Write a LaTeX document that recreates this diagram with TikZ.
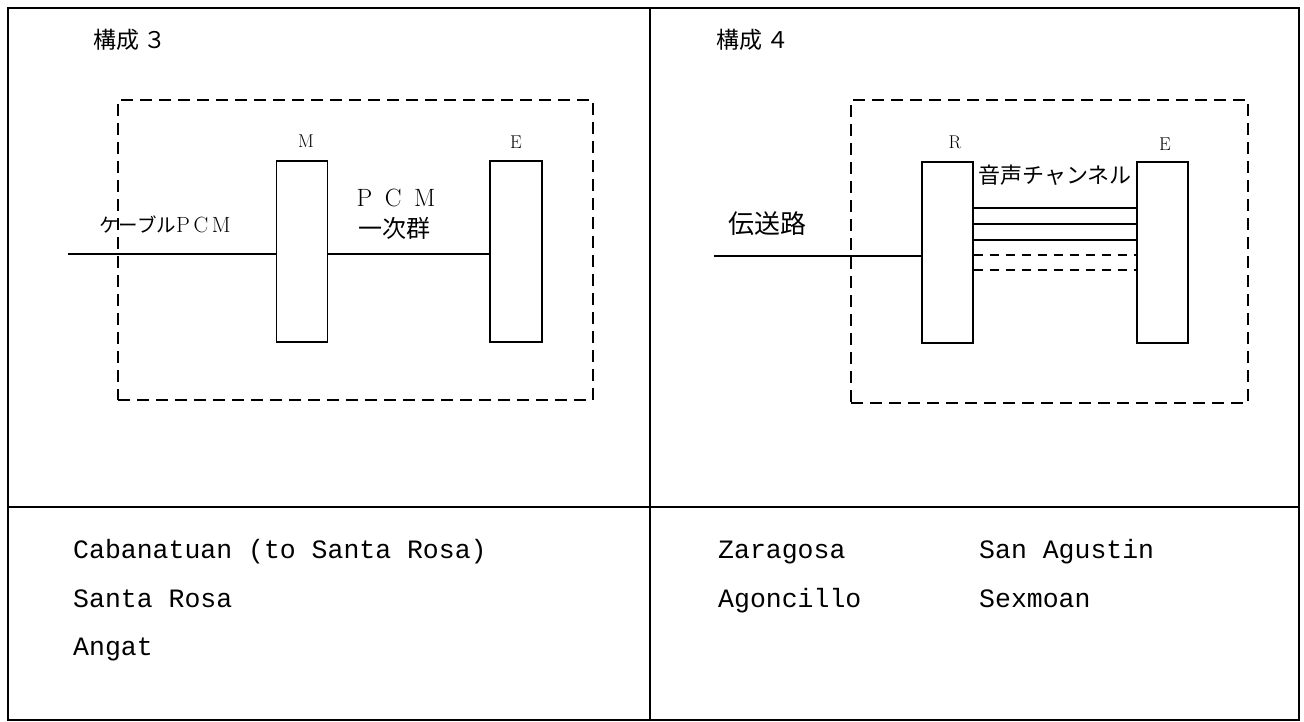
\documentclass[tikz,border=0pt]{standalone}
\usepackage{fontspec}
\newfontfamily\cjk{Noto Sans CJK JP}
\newfontfamily\mono{Liberation Mono}
\newcommand{\fsz}[1]{\fontsize{#1}{#1}\selectfont}
\begin{document}
\begin{tikzpicture}[x=1pt,y=-1pt,
  outerline/.style={line width=1.6pt},
  unitbox/.style={draw, line width=1.5pt, rectangle, inner sep=0pt, minimum width=51pt, minimum height=181pt},
  sectbox/.style={draw, line width=1.5pt, dash pattern=on 12pt off 7pt, rectangle, inner sep=0pt},
  wire/.style={line width=1.3pt},
  chdash/.style={line width=1.3pt, dash pattern=on 9pt off 7pt},
  unitlbl/.style={inner sep=0pt, font=\fsz{18.5}},
  jlbl/.style={inner sep=0pt, font=\cjk\fsz{#1}},
  site/.style={inner sep=0pt, anchor=base west, font=\mono\fsz{26.5}}
]
\useasboundingbox (0,0) rectangle (1304,722);
% outer table
\draw[outerline] (8,8) rectangle (1299,720);
\draw[outerline] (650,8) -- (650,720);
\draw[outerline] (8,507) -- (1299,507);

% titles
\node[jlbl=23] (t3) at (130,40) {構成\,３};
\node[jlbl=23] (t4) at (753,40) {構成\,４};

% ---- configuration 3 ----
\node[sectbox, minimum width=475pt, minimum height=300pt] (f3) at (355.5,250) {};
\node[unitbox] (M) at (302,251.5) {};
\node[unitbox, minimum width=52pt] (E3) at (516,251.5) {};
\node[unitlbl] (lM) at (306,141) {M};
\node[unitlbl] (lE3) at (516,142) {E};
\coordinate (in3) at (68,254);
\draw[wire] (in3) -- (in3 -| M.west);
\draw[wire] (in3 -| M.east) -- (in3 -| E3.west);
\node[jlbl=19.5] (cab) at (165,225) {ケーブル{\rmfamily\fsz{22}P\,C\,M}};
\node[inner sep=0pt, font=\fsz{25}] (pcm) at (396,198) {P\enspace C\enspace M};
\node[jlbl=24] (grp) at (394,228) {一次群};

% ---- configuration 4 ----
\node[sectbox, minimum width=397pt, minimum height=303pt] (f4) at (1049.5,251.5) {};
\node[unitbox] (R) at (947.5,252.5) {};
\node[unitbox] (E4) at (1162.5,252.5) {};
\node[unitlbl] (lR) at (955,142) {R};
\node[unitlbl] (lE4) at (1165,144) {E};
\coordinate (in4) at (714,256);
\draw[wire] (in4) -- (in4 -| R.west);
\node[jlbl=26] (den) at (767,224) {伝送路};
\node[jlbl=22] (ch) at (1055,175) {音声チャンネル};
\foreach \yy in {208,224,240}{
  \draw[wire] (R.east |- 0,\yy) -- (E4.west |- 0,\yy);
}
\foreach \yy in {255,270}{
  \draw[chdash] (R.east |- 0,\yy) -- (E4.west |- 0,\yy);
}

% ---- sites ----
\node[site] (s1) at (73,558) {Cabanatuan (to Santa Rosa)};
\node[site] (s2) at (73,607) {Santa Rosa};
\node[site] (s3) at (73,655) {Angat};
\node[site] (s4) at (718,558) {Zaragosa};
\node[site] (s5) at (979,558) {San Agustin};
\node[site] (s6) at (718,607) {Agoncillo};
\node[site] (s7) at (979,607) {Sexmoan};
\end{tikzpicture}
\end{document}
